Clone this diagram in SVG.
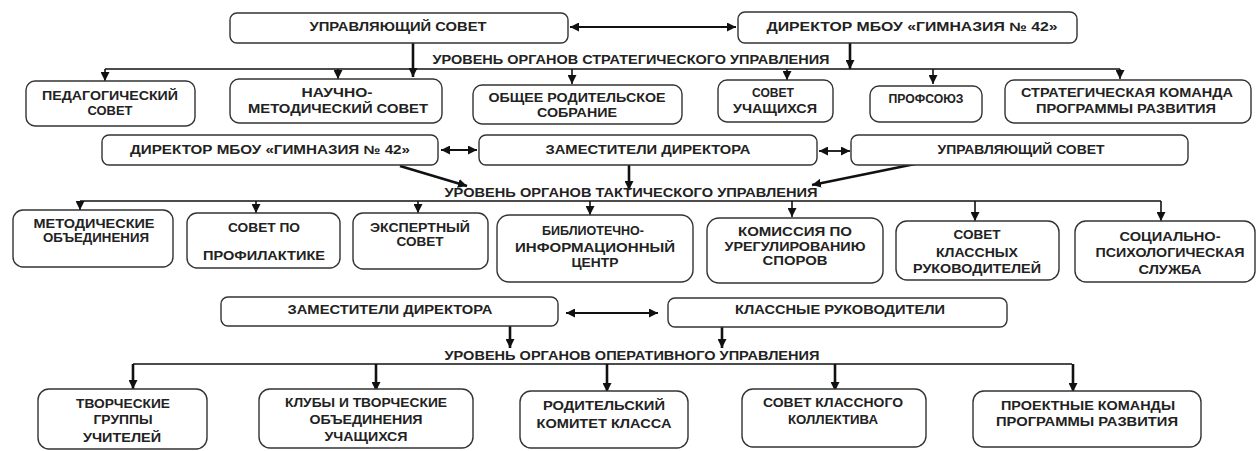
<svg xmlns="http://www.w3.org/2000/svg" width="1258" height="451" viewBox="0 0 1258 451">
<style>
.b{fill:#fff;stroke:#333;stroke-width:1.4}
.t{font-family:"Liberation Sans",Arial,sans-serif;font-weight:bold;font-size:12px;fill:#222;text-anchor:middle}
.l{fill:none;stroke:#111;stroke-width:1.4}
.a{fill:none;stroke:#111;stroke-width:1.6;marker-end:url(#ah)}
.k{fill:none;stroke:#111;stroke-width:2.6;marker-end:url(#ah)}
.d{fill:none;stroke:#111;stroke-width:1.8;marker-start:url(#ah);marker-end:url(#ah)}
</style>
<defs>
<marker id="ah" viewBox="0 0 10 10" refX="10" refY="5" markerWidth="9" markerHeight="9" markerUnits="userSpaceOnUse" orient="auto-start-reverse"><path d="M0,0 L10,5 L0,10 z" fill="#111"/></marker>
</defs>
<rect width="1258" height="451" fill="#fff"/>
<g id="connectors">
<line class="d" x1="570" y1="27" x2="736" y2="27"/>
<line class="k" x1="413" y1="43" x2="413" y2="77"/>
<line class="k" x1="850" y1="43" x2="850" y2="69"/>
<line class="l" x1="105" y1="69" x2="1120" y2="69"/>
<line class="a" x1="105" y1="69" x2="105" y2="81"/>
<line class="a" x1="338" y1="69" x2="338" y2="79"/>
<line class="a" x1="572" y1="69" x2="572" y2="84"/>
<line class="a" x1="787" y1="69" x2="787" y2="80"/>
<line class="a" x1="933" y1="69" x2="933" y2="84"/>
<line class="a" x1="1120" y1="69" x2="1120" y2="79"/>
<line class="d" x1="441" y1="150" x2="477" y2="150"/>
<line class="d" x1="819" y1="151" x2="850" y2="151"/>
<line class="k" x1="400" y1="166" x2="467" y2="186"/>
<line class="k" x1="629" y1="165" x2="629" y2="190"/>
<line class="k" x1="915" y1="164" x2="812" y2="185"/>
<line class="l" x1="80" y1="201" x2="1161" y2="201"/>
<line class="a" x1="80" y1="201" x2="80" y2="210"/>
<line class="a" x1="256" y1="201" x2="256" y2="213"/>
<line class="a" x1="418" y1="201" x2="418" y2="213"/>
<line class="a" x1="590" y1="201" x2="590" y2="215"/>
<line class="a" x1="792" y1="201" x2="792" y2="217"/>
<line class="a" x1="975" y1="201" x2="975" y2="221"/>
<line class="a" x1="1161" y1="201" x2="1161" y2="221"/>
<line class="d" x1="566" y1="313" x2="658" y2="313"/>
<line class="k" x1="510" y1="326" x2="510" y2="348"/>
<line class="k" x1="722" y1="327" x2="722" y2="348"/>
<line class="l" x1="133" y1="364" x2="1072" y2="364"/>
<line class="k" x1="133" y1="364" x2="133" y2="389"/>
<line class="k" x1="376" y1="364" x2="376" y2="391"/>
<line class="k" x1="607" y1="364" x2="607" y2="392"/>
<line class="k" x1="835" y1="364" x2="835" y2="391"/>
<line class="k" x1="1073" y1="364" x2="1073" y2="392"/>
</g>
<g id="labels">
<text class="t" x="631" y="64" textLength="397" lengthAdjust="spacingAndGlyphs">УРОВЕНЬ ОРГАНОВ СТРАТЕГИЧЕСКОГО УПРАВЛЕНИЯ</text>
<text class="t" x="631" y="197" textLength="373" lengthAdjust="spacingAndGlyphs">УРОВЕНЬ ОРГАНОВ ТАКТИЧЕСКОГО УПРАВЛЕНИЯ</text>
<text class="t" x="632" y="360" textLength="375" lengthAdjust="spacingAndGlyphs">УРОВЕНЬ ОРГАНОВ ОПЕРАТИВНОГО УПРАВЛЕНИЯ</text>
</g>
<g id="n1"><rect class="b" x="230" y="13" width="338" height="30" rx="7"/><text class="t" x="398" y="31" textLength="177" lengthAdjust="spacingAndGlyphs">УПРАВЛЯЮЩИЙ СОВЕТ</text></g>
<g id="n2"><rect class="b" x="738" y="12" width="339" height="31" rx="7"/><text class="t" x="912" y="31" textLength="291" lengthAdjust="spacingAndGlyphs">ДИРЕКТОР МБОУ «ГИМНАЗИЯ № 42»</text></g>
<g id="n3"><rect class="b" x="26" y="81" width="169" height="45" rx="9"/><text class="t" x="110" y="100" textLength="136" lengthAdjust="spacingAndGlyphs">ПЕДАГОГИЧЕСКИЙ</text><text class="t" x="110" y="115" textLength="45" lengthAdjust="spacingAndGlyphs">СОВЕТ</text></g>
<g id="n4"><rect class="b" x="230" y="79" width="212" height="44" rx="9"/><text class="t" x="337" y="97" textLength="71" lengthAdjust="spacingAndGlyphs">НАУЧНО-</text><text class="t" x="338" y="113" textLength="180" lengthAdjust="spacingAndGlyphs">МЕТОДИЧЕСКИЙ СОВЕТ</text></g>
<g id="n5"><rect class="b" x="473" y="85" width="209" height="39" rx="9"/><text class="t" x="577" y="102" textLength="177" lengthAdjust="spacingAndGlyphs">ОБЩЕЕ РОДИТЕЛЬСКОЕ</text><text class="t" x="577" y="117" textLength="80" lengthAdjust="spacingAndGlyphs">СОБРАНИЕ</text></g>
<g id="n6"><rect class="b" x="718" y="80" width="115" height="42" rx="9"/><text class="t" x="773" y="97" textLength="42" lengthAdjust="spacingAndGlyphs">СОВЕТ</text><text class="t" x="775" y="113" textLength="84" lengthAdjust="spacingAndGlyphs">УЧАЩИХСЯ</text></g>
<g id="n7"><rect class="b" x="870" y="86" width="112" height="36" rx="9"/><text class="t" x="926" y="103" textLength="75" lengthAdjust="spacingAndGlyphs">ПРОФСОЮЗ</text></g>
<g id="n8"><rect class="b" x="1005" y="80" width="246" height="43" rx="9"/><text class="t" x="1127" y="97" textLength="212" lengthAdjust="spacingAndGlyphs">СТРАТЕГИЧЕСКАЯ КОМАНДА</text><text class="t" x="1126" y="113" textLength="180" lengthAdjust="spacingAndGlyphs">ПРОГРАММЫ РАЗВИТИЯ</text></g>
<g id="n9"><rect class="b" x="102" y="135" width="336" height="30" rx="7"/><text class="t" x="270" y="154" textLength="280" lengthAdjust="spacingAndGlyphs">ДИРЕКТОР МБОУ «ГИМНАЗИЯ № 42»</text></g>
<g id="n10"><rect class="b" x="479" y="135" width="338" height="30" rx="7"/><text class="t" x="648" y="154" textLength="205" lengthAdjust="spacingAndGlyphs">ЗАМЕСТИТЕЛИ ДИРЕКТОРА</text></g>
<g id="n11"><rect class="b" x="851" y="135" width="337" height="30" rx="7"/><text class="t" x="1021" y="154" textLength="167" lengthAdjust="spacingAndGlyphs">УПРАВЛЯЮЩИЙ СОВЕТ</text></g>
<g id="n12"><rect class="b" x="13" y="210" width="160" height="57" rx="10"/><text class="t" x="94" y="228" textLength="121" lengthAdjust="spacingAndGlyphs">МЕТОДИЧЕСКИЕ</text><text class="t" x="96" y="242" textLength="106" lengthAdjust="spacingAndGlyphs">ОБЪЕДИНЕНИЯ</text></g>
<g id="n13"><rect class="b" x="187" y="213" width="153" height="55" rx="10"/><text class="t" x="264" y="232" textLength="72" lengthAdjust="spacingAndGlyphs">СОВЕТ ПО</text><text class="t" x="264" y="260" textLength="122" lengthAdjust="spacingAndGlyphs">ПРОФИЛАКТИКЕ</text></g>
<g id="n14"><rect class="b" x="353" y="213" width="135" height="56" rx="10"/><text class="t" x="420" y="232" textLength="100" lengthAdjust="spacingAndGlyphs">ЭКСПЕРТНЫЙ</text><text class="t" x="420" y="246" textLength="47" lengthAdjust="spacingAndGlyphs">СОВЕТ</text></g>
<g id="n15"><rect class="b" x="497" y="215" width="196" height="67" rx="12"/><text class="t" x="593" y="235" textLength="102" lengthAdjust="spacingAndGlyphs">БИБЛИОТЕЧНО-</text><text class="t" x="595" y="252" textLength="160" lengthAdjust="spacingAndGlyphs">ИНФОРМАЦИОННЫЙ</text><text class="t" x="595" y="267" textLength="47" lengthAdjust="spacingAndGlyphs">ЦЕНТР</text></g>
<g id="n16"><rect class="b" x="707" y="218" width="176" height="65" rx="12"/><text class="t" x="795" y="236" textLength="114" lengthAdjust="spacingAndGlyphs">КОМИССИЯ ПО</text><text class="t" x="795" y="251" textLength="141" lengthAdjust="spacingAndGlyphs">УРЕГУЛИРОВАНИЮ</text><text class="t" x="795" y="265" textLength="65" lengthAdjust="spacingAndGlyphs">СПОРОВ</text></g>
<g id="n17"><rect class="b" x="896" y="221" width="163" height="59" rx="11"/><text class="t" x="977" y="239" textLength="47" lengthAdjust="spacingAndGlyphs">СОВЕТ</text><text class="t" x="977" y="257" textLength="82" lengthAdjust="spacingAndGlyphs">КЛАССНЫХ</text><text class="t" x="977" y="273" textLength="128" lengthAdjust="spacingAndGlyphs">РУКОВОДИТЕЛЕЙ</text></g>
<g id="n18"><rect class="b" x="1075" y="221" width="180" height="61" rx="11"/><text class="t" x="1170" y="241" textLength="101" lengthAdjust="spacingAndGlyphs">СОЦИАЛЬНО-</text><text class="t" x="1170" y="257" textLength="149" lengthAdjust="spacingAndGlyphs">ПСИХОЛОГИЧЕСКАЯ</text><text class="t" x="1170" y="274" textLength="63" lengthAdjust="spacingAndGlyphs">СЛУЖБА</text></g>
<g id="n19"><rect class="b" x="221" y="297" width="337" height="29" rx="7"/><text class="t" x="390" y="314" textLength="205" lengthAdjust="spacingAndGlyphs">ЗАМЕСТИТЕЛИ ДИРЕКТОРА</text></g>
<g id="n20"><rect class="b" x="668" y="298" width="339" height="29" rx="7"/><text class="t" x="840" y="314" textLength="210" lengthAdjust="spacingAndGlyphs">КЛАССНЫЕ РУКОВОДИТЕЛИ</text></g>
<g id="n21"><rect class="b" x="38" y="389" width="169" height="60" rx="11"/><text class="t" x="123" y="408" textLength="94" lengthAdjust="spacingAndGlyphs">ТВОРЧЕСКИЕ</text><text class="t" x="123" y="424" textLength="59" lengthAdjust="spacingAndGlyphs">ГРУППЫ</text><text class="t" x="122" y="442" textLength="78" lengthAdjust="spacingAndGlyphs">УЧИТЕЛЕЙ</text></g>
<g id="n22"><rect class="b" x="259" y="389" width="214" height="59" rx="11"/><text class="t" x="366" y="407" textLength="162" lengthAdjust="spacingAndGlyphs">КЛУБЫ И ТВОРЧЕСКИЕ</text><text class="t" x="366" y="424" textLength="113" lengthAdjust="spacingAndGlyphs">ОБЪЕДИНЕНИЯ</text><text class="t" x="366" y="441" textLength="83" lengthAdjust="spacingAndGlyphs">УЧАЩИХСЯ</text></g>
<g id="n23"><rect class="b" x="520" y="391" width="168" height="57" rx="11"/><text class="t" x="604" y="410" textLength="122" lengthAdjust="spacingAndGlyphs">РОДИТЕЛЬСКИЙ</text><text class="t" x="604" y="428" textLength="135" lengthAdjust="spacingAndGlyphs">КОМИТЕТ КЛАССА</text></g>
<g id="n24"><rect class="b" x="742" y="389" width="184" height="58" rx="11"/><text class="t" x="833" y="407" textLength="140" lengthAdjust="spacingAndGlyphs">СОВЕТ КЛАССНОГО</text><text class="t" x="833" y="424" textLength="90" lengthAdjust="spacingAndGlyphs">КОЛЛЕКТИВА</text></g>
<g id="n25"><rect class="b" x="973" y="391" width="228" height="56" rx="11"/><text class="t" x="1088" y="410" textLength="174" lengthAdjust="spacingAndGlyphs">ПРОЕКТНЫЕ КОМАНДЫ</text><text class="t" x="1087" y="426" textLength="182" lengthAdjust="spacingAndGlyphs">ПРОГРАММЫ РАЗВИТИЯ</text></g>
</svg>
